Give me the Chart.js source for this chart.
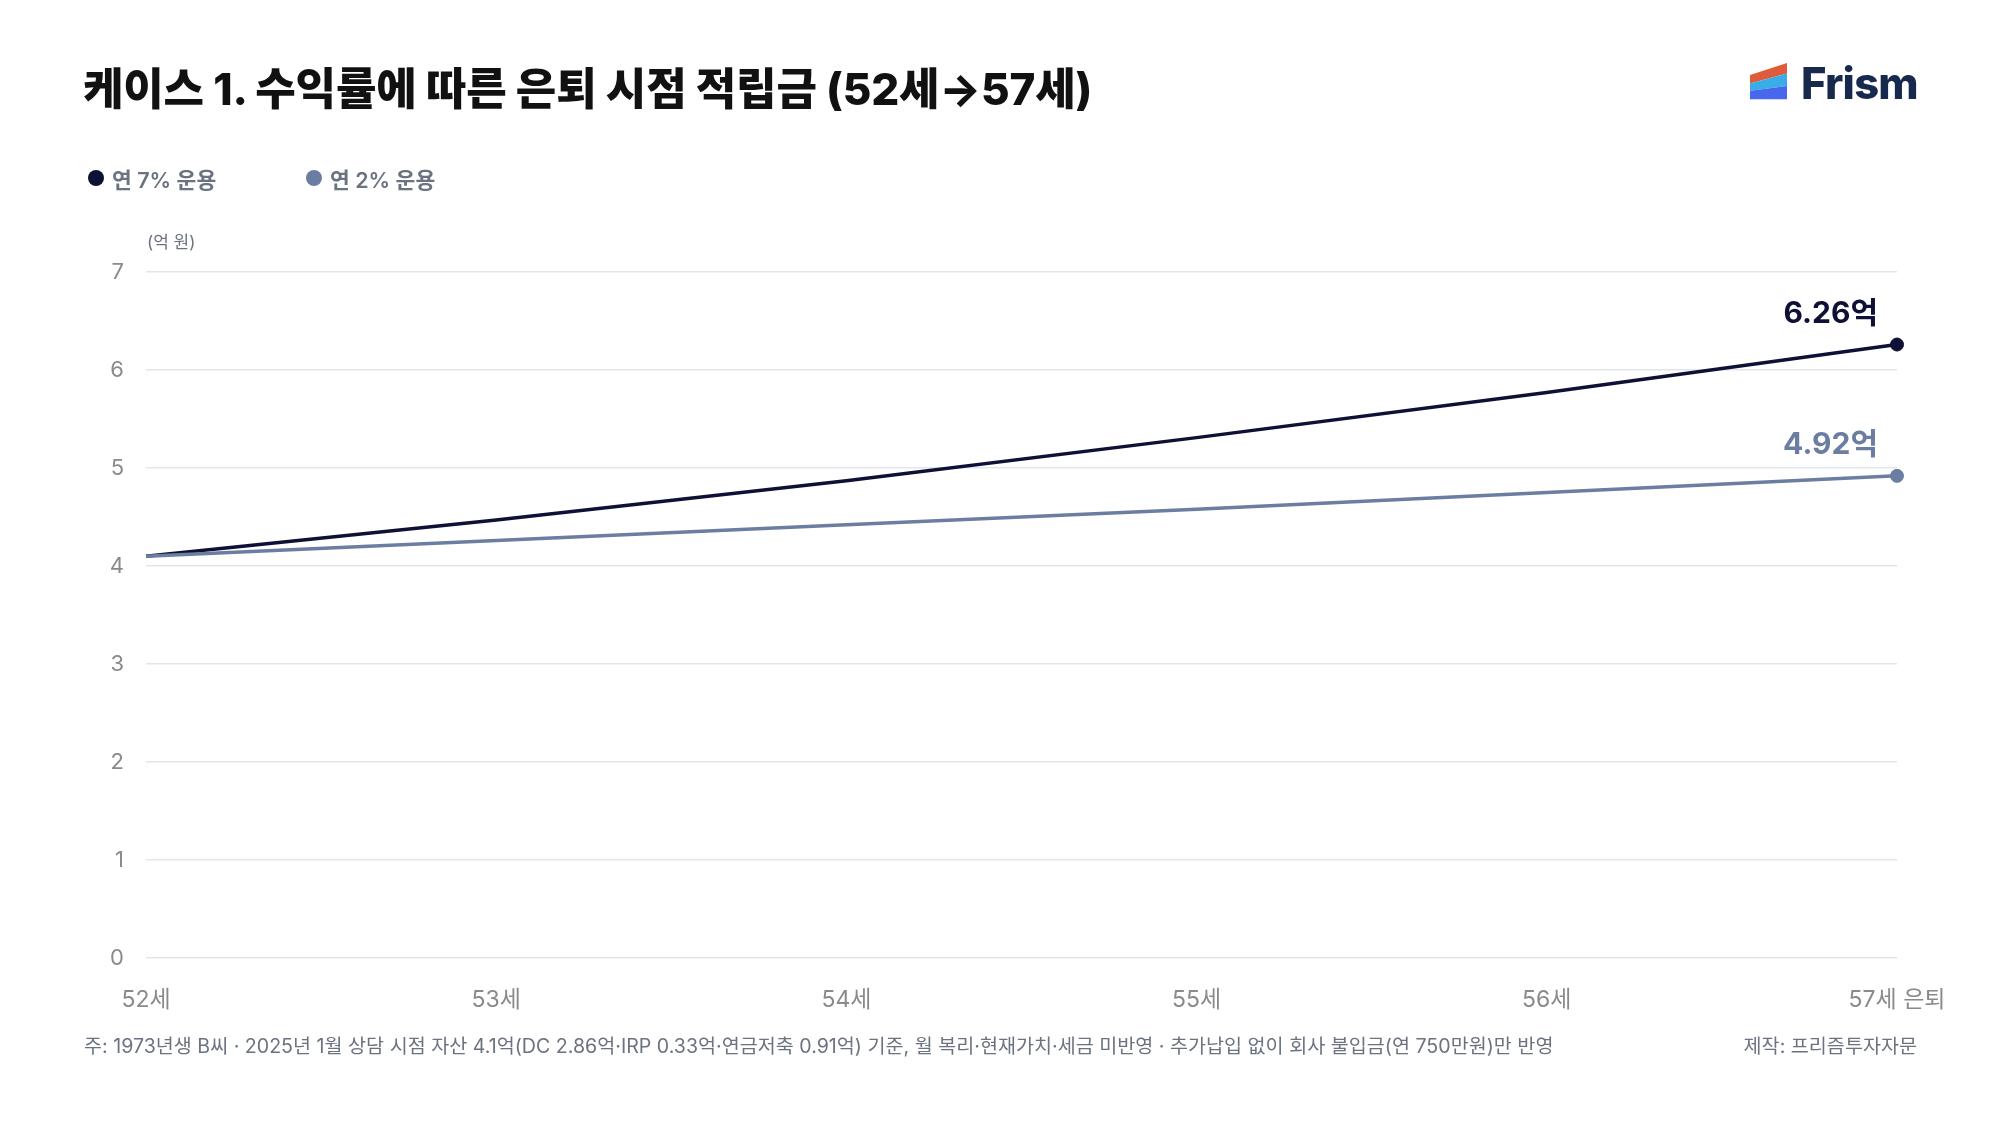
<!DOCTYPE html>
<html lang="ko">
<head>
    <meta charset="UTF-8">
    <title>케이스 1. 수익률에 따른 은퇴 시점 적립금</title>
    <script src="https://cdn.jsdelivr.net/npm/chart.js"></script>
    <style>
        html, body { margin: 0; padding: 0; background: #fff; }
        body {
            width: 2000px; height: 1125px; position: relative; overflow: hidden;
            font-family: "Inter", "Noto Sans CJK KR", sans-serif;
        }
        #grafico { position: absolute; left: 0; top: 0; }
        .titulo {
            position: absolute; left: 83px; top: 67px;
            font-size: 44px; line-height: 44px; font-weight: 800; color: #111;
            letter-spacing: -0.2px; white-space: nowrap;
        }
        .logo { position: absolute; left: 1750px; top: 60px; }
        .logo-texto {
            position: absolute; left: 1801px; top: 61px;
            font-size: 43.5px; line-height: 44px; font-weight: 800; color: #172a4e;
            letter-spacing: -0.8px;
        }
        .leyenda { position: absolute; top: 166px; left: 0; height: 24px; }
        .item { position: absolute; top: 0; display: flex; align-items: center; height: 24px; white-space: nowrap;
            font-size: 21.5px; font-weight: 600; color: #6b7280; }
        .item span.punto { width: 16px; height: 16px; border-radius: 50%; margin-right: 8px; }
        .unidad { position: absolute; left: 147px; top: 232px; font-size: 17px; line-height: 20px; color: #6b7280; }
        .nota { position: absolute; top: 1034px; font-size: 19.6px; line-height: 24px; color: #6b7280; white-space: nowrap; }
    </style>
</head>
<body>
    <canvas id="grafico" width="2000" height="1125"></canvas>

    <div class="titulo">케이스 1. 수익률에 따른 은퇴 시점 적립금 (52세→57세)</div>

    <!-- logo -->
    <svg class="logo" width="40" height="42" viewBox="0 0 40 42">
        <polygon points="0,15 37,3 37,13.5 0,23.5" fill="#e05b3c"/>
        <polygon points="0,23.5 37,13.5 37,26 0,30.8" fill="#38ade8"/>
        <polygon points="0,30.8 37,26 37,39.3 0,39.3" fill="#4768ec"/>
    </svg>
    <div class="logo-texto">Frism</div>

    <div class="leyenda" id="leyenda"></div>
    <div class="unidad">(억 원)</div>

    <div class="nota" style="left:84px;">주: 1973년생 B씨 · 2025년 1월 상담 시점 자산 4.1억(DC 2.86억·IRP 0.33억·연금저축 0.91억) 기준, 월 복리·현재가치·세금 미반영 · 추가납입 없이 회사 불입금(연 750만원)만 반영</div>
    <div class="nota" style="right:83px;">제작: 프리즘투자자문</div>

    <script>
        // datos (억 원)
        const edades = ['52세', '53세', '54세', '55세', '56세', '57세 은퇴'];
        const serie7 = [4.1, 4.47, 4.87, 5.31, 5.77, 6.26];
        const serie2 = [4.1, 4.26, 4.42, 4.58, 4.75, 4.92];
        const nombres = ['연 7% 운용', '연 2% 운용'];
        const colores = ['#0f1035', '#6b7ea1'];
        const ejeY = [0, 1, 2, 3, 4, 5, 6, 7];

        // leyenda html
        const leyenda = document.getElementById('leyenda');
        const posLeyenda = [88, 306];
        nombres.forEach(function (n, i) {
            const item = document.createElement('div');
            item.className = 'item';
            item.style.left = posLeyenda[i] + 'px';
            item.innerHTML = '<span class="punto" style="background:' + colores[i] + '"></span>' + n;
            leyenda.appendChild(item);
        });

        // etiqueta al final de cada linea
        const etiquetaFinal = {
            id: 'etiquetaFinal',
            afterDatasetsDraw(chart) {
                const ctx = chart.ctx;
                ctx.save();
                ctx.font = '700 30px Inter, "Noto Sans CJK KR"';
                ctx.textAlign = 'right';
                ctx.textBaseline = 'alphabetic';
                chart.data.datasets.forEach(function (ds, i) {
                    const meta = chart.getDatasetMeta(i);
                    const ultimo = meta.data[meta.data.length - 1];
                    ctx.fillStyle = ds.borderColor;
                    ctx.fillText(ds.data[ds.data.length - 1].toFixed(2) + '억', ultimo.x - 19, ultimo.y - 22);
                });
                ctx.restore();
            }
        };

        function radioFinal(ctx) {
            return ctx.dataIndex === edades.length - 1 ? 6.5 : 0;
        }

        const grafico = new Chart(document.getElementById('grafico'), {
            type: 'line',
            data: {
                labels: edades,
                datasets: [serie7, serie2].map(function (d, i) {
                    return {
                        label: nombres[i],
                        data: d,
                        borderColor: colores[i],
                        backgroundColor: colores[i],
                        borderWidth: 3.5,
                        pointRadius: radioFinal,
                        pointHoverRadius: radioFinal,
                        pointBorderWidth: 1,
                        pointBackgroundColor: colores[i],
                        tension: 0,
                        clip: false
                    };
                }).reverse()
            },
            options: {
                responsive: false,
                devicePixelRatio: 1,
                animation: false,
                layout: { padding: { top: 272, right: 103, bottom: 0, left: 0 } },
                plugins: {
                    legend: { display: false },
                    tooltip: { enabled: false }
                },
                scales: {
                    x: {
                        offset: false,
                        grid: { display: false, drawTicks: false },
                        border: { display: false },
                        ticks: {
                            color: '#8a8a8a',
                            font: { family: 'Inter, "Noto Sans CJK KR"', size: 23 },
                            padding: 28,
                            maxRotation: 0,
                            autoSkip: false
                        },
                        afterFit(scale) { scale.height = 1125 - 958; }
                    },
                    y: {
                        min: ejeY[0],
                        max: ejeY[ejeY.length - 1],
                        grid: { color: '#e3e5ec', lineWidth: 1.5, drawTicks: false },
                        border: { display: false },
                        afterBuildTicks(scale) { scale.ticks = ejeY.map(function (v) { return { value: v }; }); },
                        ticks: {
                            color: '#8a8a8a',
                            font: { family: 'Inter, "Noto Sans CJK KR"', size: 22 },
                            padding: 22
                        },
                        afterFit(scale) { scale.width = 146; }
                    }
                }
            },
            plugins: [etiquetaFinal]
        });
    </script>
</body>
</html>
